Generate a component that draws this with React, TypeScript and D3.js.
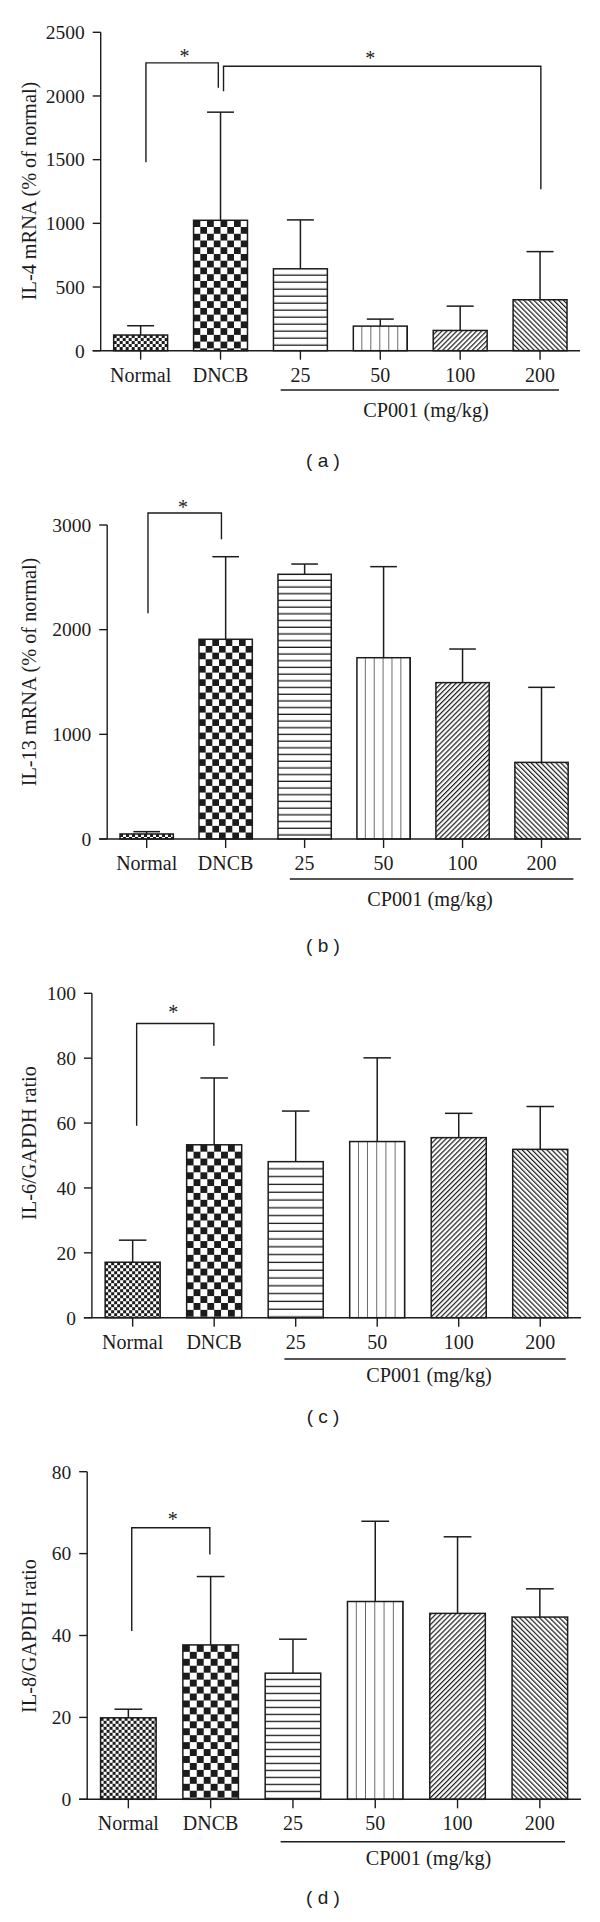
import React from "react";
import * as d3 from "d3";

const categories = ["Normal", "DNCB", "25", "50", "100", "200"];
const patterns = ["checkFine", "checkBig", "hLines", "vLines", "diagUp", "diagDown"];

const il4Mean = [123, 1024, 643, 193, 159, 400];
const il4Err = [196, 1873, 1027, 248, 350, 778];
const il4Ticks = [0, 500, 1000, 1500, 2000, 2500];

const il13Mean = [48, 1908, 2529, 1732, 1494, 732];
const il13Err = [70, 2697, 2627, 2602, 1815, 1449];
const il13Ticks = [0, 1000, 2000, 3000];

const il6Mean = [17.1, 53.3, 48.1, 54.3, 55.5, 51.9];
const il6Err = [23.9, 73.9, 63.7, 80.1, 63.0, 65.1];
const il6Ticks = [0, 20, 40, 60, 80, 100];

const il8Mean = [19.9, 37.7, 30.8, 48.3, 45.4, 44.5];
const il8Err = [22.0, 54.4, 39.1, 67.9, 64.1, 51.4];
const il8Ticks = [0, 20, 40, 60, 80];

// significance brackets: category indices and values
const il4Brackets = [
  { from: 0, to: 1, fromEnd: 1480, top: 2260, toEnd: 2064, star: 2330 },
  { from: 1, to: 5, fromEnd: 2038, top: 2234, toEnd: 1267, star: 2317 },
];
const il13Brackets = [{ from: 0, to: 1, fromEnd: 2156, top: 3115, toEnd: 2863, star: 3190 }];
const il6Brackets = [{ from: 0, to: 1, fromEnd: 59.2, top: 90.7, toEnd: 83.8, star: 94.9 }];
const il8Brackets = [{ from: 0, to: 1, fromEnd: 41.1, top: 66.3, toEnd: 59.8, star: 69 }];

const INK = "#1c1c1c";
const SERIF = "'Liberation Serif', 'Times New Roman', serif";
const SANS = "'Liberation Sans', Arial, sans-serif";

const panels = [
  {
    id: "a", mean: il4Mean, err: il4Err, ticks: il4Ticks, yMax: 2500,
    title: "IL-4 mRNA (% of normal)", brackets: il4Brackets,
    layout: {
      axisX: 100.7, axisRight: 580, y0: 350.7, yTop: 32.3, labelCy: 191,
      cp: [280.7, 559, 390], cpText: [426, 416.7], letter: [323, 460],
      brOff: [[5.3, -2.2, 2.3], [3, 0.8, -12]], hStep: 7,
    },
  },
  {
    id: "b", mean: il13Mean, err: il13Err, ticks: il13Ticks, yMax: 3000,
    title: "IL-13 mRNA (% of normal)", brackets: il13Brackets,
    layout: {
      axisX: 107.2, axisRight: 581, y0: 839, yTop: 525, labelCy: 672,
      cp: [289.8, 573.4, 879], cpText: [430, 906], letter: [323, 945],
      brOff: [[1.3, -4.2, -1.6]], hStep: 6.7,
    },
  },
  {
    id: "c", mean: il6Mean, err: il6Err, ticks: il6Ticks, yMax: 100,
    title: "IL-6/GAPDH ratio", brackets: il6Brackets,
    layout: {
      axisX: 91.9, axisRight: 581, y0: 1317.7, yTop: 993.3, labelCy: 1143,
      cp: [284.4, 565.7, 1359], cpText: [429, 1382], letter: [323, 1416.7],
      brOff: [[4, -0.3, -2]], hStep: 7.8,
    },
  },
  {
    id: "d", mean: il8Mean, err: il8Err, ticks: il8Ticks, yMax: 80,
    title: "IL-8/GAPDH ratio", brackets: il8Brackets,
    layout: {
      axisX: 87.2, axisRight: 581, y0: 1799.3, yTop: 1471.7, labelCy: 1636,
      cp: [280.6, 565, 1841.7], cpText: [428.5, 1865], letter: [323, 1897],
      brOff: [[3.4, -0.8, 2]], hStep: 7,
    },
  },
];

function PatternDefs({ pid, kind, x, y, w, hStep }) {
  if (kind === "checkFine") {
    const c = 3;
    return (
      <pattern id={pid} patternUnits="userSpaceOnUse" width={2 * c} height={2 * c} x={x} y={y}>
        <rect width={2 * c} height={2 * c} fill="#fff" />
        <rect width={c} height={c} fill={INK} />
        <rect x={c} y={c} width={c} height={c} fill={INK} />
      </pattern>
    );
  }
  if (kind === "checkBig") {
    const c = w / 8;
    return (
      <pattern id={pid} patternUnits="userSpaceOnUse" width={2 * c} height={2 * c} x={x} y={y}>
        <rect width={2 * c} height={2 * c} fill="#fff" />
        <rect width={c} height={c} fill={INK} />
        <rect x={c} y={c} width={c} height={c} fill={INK} />
      </pattern>
    );
  }
  if (kind === "hLines") {
    return (
      <pattern id={pid} patternUnits="userSpaceOnUse" width={10} height={hStep} x={x} y={y}>
        <rect width={10} height={hStep} fill="#fff" />
        <rect y={hStep - 1.3} width={10} height={1.3} fill={INK} />
      </pattern>
    );
  }
  if (kind === "vLines") {
    const s = w / 6;
    return (
      <pattern id={pid} patternUnits="userSpaceOnUse" width={s} height={10} x={x} y={y}>
        <rect width={s} height={10} fill="#fff" />
        <rect x={s - 0.65} width={1.3} height={10} fill={INK} />
      </pattern>
    );
  }
  const rot = kind === "diagUp" ? 45 : -45;
  return (
    <pattern id={pid} patternUnits="userSpaceOnUse" width={3.5} height={10} patternTransform={`rotate(${rot})`}>
      <rect width={3.5} height={10} fill="#fff" />
      <rect width={1.2} height={10} fill={INK} />
    </pattern>
  );
}

function Panel({ p }) {
  const L = p.layout;
  const x = d3.scaleBand().domain(categories).range([L.axisX, L.axisRight]).paddingInner(0).paddingOuter(0);
  const y = d3.scaleLinear().domain([0, p.yMax]).range([L.y0, L.yTop]);
  const step = x.step();
  const bw = step * 0.675;
  const cx = (c) => x(c) + step / 2;
  const cap = bw / 2;

  return (
    <g>
      <defs>
        {categories.map((c, i) => (
          <PatternDefs key={c} pid={`pat-${p.id}-${i}`} kind={patterns[i]} x={cx(c) - bw / 2}
            y={y(p.mean[i])} w={bw} hStep={L.hStep} />
        ))}
      </defs>

      {/* error bars */}
      {categories.map((c, i) => (
        <g key={"e" + c} stroke={INK} strokeWidth={1.5}>
          <line x1={cx(c)} x2={cx(c)} y1={y(p.mean[i])} y2={y(p.err[i])} />
          <line x1={cx(c) - cap / 2} x2={cx(c) + cap / 2} y1={y(p.err[i])} y2={y(p.err[i])} />
        </g>
      ))}

      {/* bars */}
      {categories.map((c, i) => (
        <rect key={"b" + c} x={cx(c) - bw / 2} y={y(p.mean[i])} width={bw}
          height={y(0) - y(p.mean[i])} fill={`url(#pat-${p.id}-${i})`} stroke={INK} strokeWidth={1.5} />
      ))}

      {/* y axis */}
      <line x1={L.axisX} x2={L.axisX} y1={y(0)} y2={y(p.yMax)} stroke={INK} strokeWidth={1.4} />
      {p.ticks.map((t) => (
        <g key={"yt" + t}>
          <line x1={L.axisX - 8} x2={L.axisX} y1={y(t)} y2={y(t)} stroke={INK} strokeWidth={1.4} />
          <text x={L.axisX - 16} y={y(t)} dy="0.35em" textAnchor="end" fontFamily={SERIF} fontSize={19.5} fill={INK}>
            {t}
          </text>
        </g>
      ))}

      {/* x axis */}
      <line x1={L.axisX - 8} x2={L.axisRight} y1={y(0)} y2={y(0)} stroke={INK} strokeWidth={1.4} />
      {categories.map((c) => (
        <g key={"xt" + c}>
          <line x1={cx(c)} x2={cx(c)} y1={y(0)} y2={y(0) + 9} stroke={INK} strokeWidth={1.4} />
          <text x={cx(c)} y={y(0) + 31} textAnchor="middle" fontFamily={SERIF} fontSize={20} fill={INK}>
            {c}
          </text>
        </g>
      ))}

      {/* y label */}
      <text transform={`translate(36,${L.labelCy}) rotate(-90)`} textAnchor="middle" fontFamily={SERIF}
        fontSize={20.3} fill={INK}>
        {p.title}
      </text>

      {/* CP001 group */}
      <line x1={L.cp[0]} x2={L.cp[1]} y1={L.cp[2]} y2={L.cp[2]} stroke={INK} strokeWidth={1.4} />
      <text x={L.cpText[0]} y={L.cpText[1]} textAnchor="middle" fontFamily={SERIF} fontSize={20.3} fill={INK}>
        CP001 (mg/kg)
      </text>

      {/* brackets */}
      {p.brackets.map((b, k) => {
        const [dl, dr, ds] = L.brOff[k];
        const xl = cx(categories[b.from]) + dl;
        const xr = cx(categories[b.to]) + dr;
        return (
          <g key={"br" + k}>
            <path d={`M${xl},${y(b.fromEnd)}V${y(b.top)}H${xr}V${y(b.toEnd)}`} fill="none" stroke={INK}
              strokeWidth={1.4} />
            <text x={(xl + xr) / 2 + ds} y={y(b.star) + 9} textAnchor="middle" fontFamily={SERIF} fontSize={20}
              fill={INK}>
              *
            </text>
          </g>
        );
      })}

      {/* panel letter */}
      <text x={L.letter[0]} y={L.letter[1]} dy="0.35em" textAnchor="middle" fontFamily={SANS} fontSize={19}
        fill={INK}>
        ( {p.id} )
      </text>
    </g>
  );
}

export default function App() {
  return (
    <svg width={600} height={1922} viewBox="0 0 600 1922"
      style={{ position: "absolute", left: 0, top: 0, background: "#fff" }}>
      <rect width={600} height={1922} fill="#fff" />
      {panels.map((p) => (
        <Panel key={p.id} p={p} />
      ))}
    </svg>
  );
}
